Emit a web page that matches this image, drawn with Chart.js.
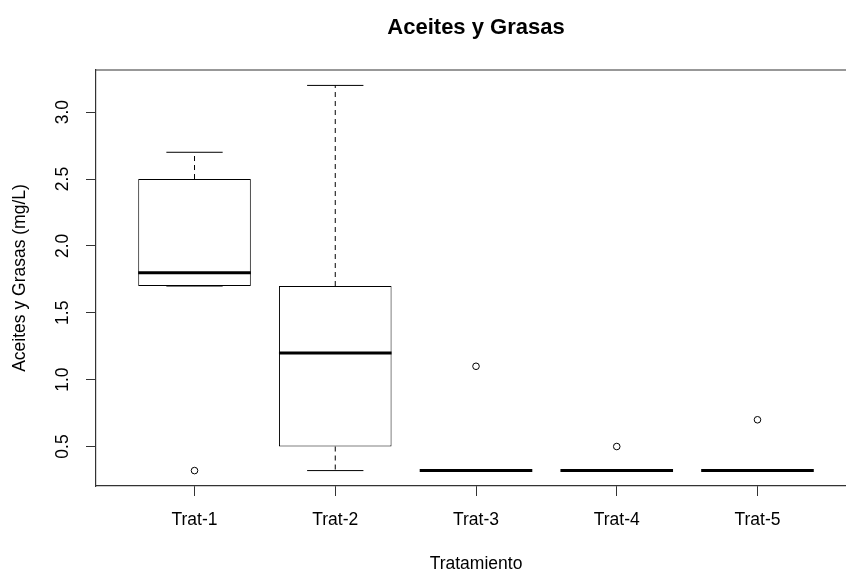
<!DOCTYPE html>
<html lang="es">
<head>
    <meta charset="UTF-8">
    <title>Aceites y Grasas</title>
    <script src="https://cdn.jsdelivr.net/npm/chart.js"></script>
    <style>
        body, html {
            margin: 0;
            padding: 0;
            overflow: hidden;
            background: #fff;
        }
        /* plot runs past the right edge like the original (cropped) picture */
        .wrap {
            width: 861px;
            height: 573px;
            position: relative;
        }
    </style>
</head>
<body>
    <div class="wrap"><canvas id="boxChart"></canvas></div>

    <script>
        // Data
        const categories = ['Trat-1', 'Trat-2', 'Trat-3', 'Trat-4', 'Trat-5'];
        const whiskLow  = [1.7, 0.32, 0.32, 0.32, 0.32];
        const q1        = [1.7, 0.5, 0.32, 0.32, 0.32];
        const median    = [1.8, 1.2, 0.32, 0.32, 0.32];
        const q3        = [2.5, 1.7, 0.32, 0.32, 0.32];
        const whiskHigh = [2.7, 3.2, 0.32, 0.32, 0.32];
        const outlierGroup  = [1, 3, 4, 5];
        const outlierValues = [0.32, 1.1, 0.5, 0.7];
        const yTicks = [0.5, 1.0, 1.5, 2.0, 2.5, 3.0];
        const yTickLabels = ['0.5', '1.0', '1.5', '2.0', '2.5', '3.0'];
        const xTicks = [1, 2, 3, 4, 5];

        const FONT = "'Liberation Sans', Arial, sans-serif";
        Chart.defaults.font.family = FONT;
        Chart.defaults.color = '#000';

        // whiskers, caps, medians and the rotated y labels (R style)
        const boxPlugin = {
            id: 'rbox',
            afterDatasetsDraw(chart) {
                const { ctx, scales: { x, y } } = chart;
                const bars = chart.getDatasetMeta(0).data;
                ctx.save();
                ctx.strokeStyle = '#000';

                function seg(x1, y1, x2, y2) {
                    ctx.beginPath();
                    ctx.moveTo(x1, y1);
                    ctx.lineTo(x2, y2);
                    ctx.stroke();
                }

                categories.forEach((c, i) => {
                    const cx = x.getPixelForValue(i + 1);
                    const half = bars[i].width / 2;
                    const cap = half / 2;
                    const yLo = y.getPixelForValue(whiskLow[i]);
                    const yHi = y.getPixelForValue(whiskHigh[i]);

                    ctx.lineWidth = 1;
                    ctx.setLineDash([5, 4]);
                    seg(cx, y.getPixelForValue(q3[i]), cx, yHi);
                    seg(cx, y.getPixelForValue(q1[i]), cx, yLo);
                    ctx.setLineDash([]);
                    seg(cx - cap, yHi, cx + cap, yHi);
                    seg(cx - cap, yLo, cx + cap, yLo);

                    ctx.lineWidth = 3;
                    const ym = y.getPixelForValue(median[i]);
                    seg(cx - half, ym, cx + half, ym);
                });

                // top and right of the frame
                const a = chart.chartArea;
                ctx.lineWidth = 1.2;
                ctx.strokeStyle = '#333';
                seg(a.left, a.top, a.right, a.top);
                seg(a.right, a.top, a.right, a.bottom);
                ctx.restore();
            },
            afterDraw(chart) {
                const { ctx, scales: { y } } = chart;
                ctx.save();
                ctx.fillStyle = '#000';
                ctx.font = '17.5px ' + FONT;
                ctx.textAlign = 'center';
                ctx.textBaseline = 'middle';
                yTicks.forEach((v, i) => {
                    ctx.save();
                    ctx.translate(y.right - 32.5, y.getPixelForValue(v));
                    ctx.rotate(-Math.PI / 2);
                    ctx.fillText(yTickLabels[i], 0, 0);
                    ctx.restore();
                });
                ctx.restore();
            }
        };

        const ctx = document.getElementById('boxChart').getContext('2d');
        new Chart(ctx, {
            type: 'bar',
            data: {
                datasets: [{
                    label: 'caja',
                    data: categories.map((c, i) => ({ x: i + 1, y: [q1[i], q3[i]] })),
                    backgroundColor: '#fff',
                    borderColor: '#000',
                    borderWidth: 1,
                    borderSkipped: false,
                    barPercentage: 0.8,
                    categoryPercentage: 1.0
                }, {
                    type: 'scatter',
                    label: 'atipicos',
                    data: outlierGroup.map((g, i) => ({ x: g, y: outlierValues[i] })),
                    pointRadius: 3.3,
                    pointBorderWidth: 1,
                    pointBorderColor: '#000',
                    pointBackgroundColor: 'rgba(0,0,0,0)'
                }]
            },
            options: {
                responsive: true,
                maintainAspectRatio: false,
                animation: false,
                layout: { padding: 0 },
                plugins: {
                    legend: { display: false },
                    tooltip: { enabled: false },
                    title: {
                        display: true,
                        text: 'Aceites y Grasas',
                        fullSize: false,
                        color: '#000',
                        font: { size: 22, weight: 'bold', lineHeight: 1.2 },
                        padding: { top: 15, bottom: 28.6 }
                    }
                },
                scales: {
                    x: {
                        type: 'linear',
                        min: 0.3,
                        max: 5.7,
                        offset: false,
                        afterBuildTicks: (scale) => { scale.ticks = xTicks.map(v => ({ value: v })); },
                        afterFit: (scale) => { scale.height = 87; },
                        ticks: {
                            callback: (v) => categories[v - 1],
                            font: { size: 17.5 },
                            color: '#000',
                            padding: 14,
                            maxRotation: 0
                        },
                        grid: { drawOnChartArea: false, offset: false, tickLength: 10, color: '#333' },
                        border: { color: '#333', width: 1.2 },
                        title: {
                            display: true,
                            text: 'Tratamiento',
                            color: '#000',
                            font: { size: 17.5, lineHeight: 1.0 },
                            padding: { top: 0, bottom: 0 }
                        }
                    },
                    y: {
                        min: 0.2048,
                        max: 3.3152,
                        afterBuildTicks: (scale) => { scale.ticks = yTicks.map(v => ({ value: v })); },
                        afterFit: (scale) => { scale.width = 96; },
                        ticks: { display: false },
                        grid: { drawOnChartArea: false, tickLength: 10, color: '#333' },
                        border: { color: '#333', width: 1.2 },
                        title: {
                            display: true,
                            text: 'Aceites y Grasas (mg/L)',
                            color: '#000',
                            font: { size: 17.5, lineHeight: 1.2 },
                            padding: { top: 10, bottom: 0 }
                        }
                    }
                }
            },
            plugins: [boxPlugin]
        });
    </script>
</body>
</html>
